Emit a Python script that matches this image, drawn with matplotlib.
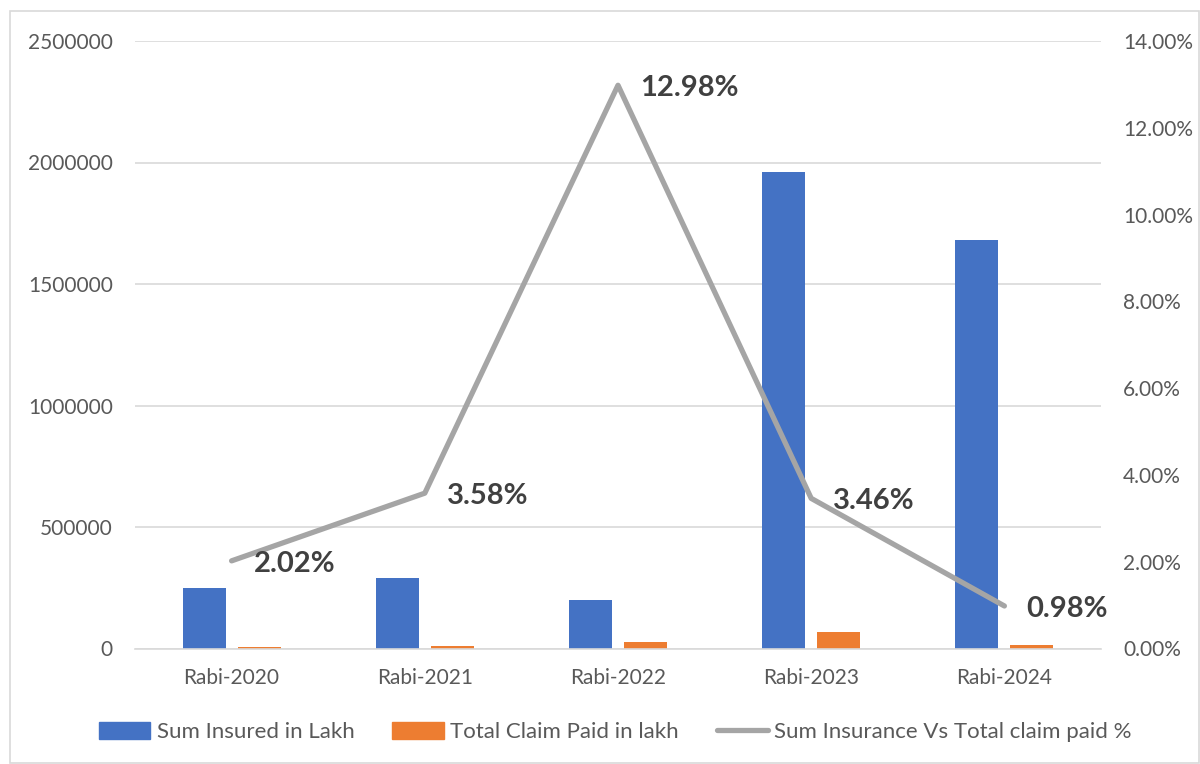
import matplotlib
matplotlib.use("Agg")
import matplotlib.pyplot as plt
import matplotlib.patches as mpatches
from matplotlib.lines import Line2D
import numpy as np

categories = ["Rabi-2020", "Rabi-2021", "Rabi-2022", "Rabi-2023", "Rabi-2024"]
sum_insured = [250000, 292000, 200000, 1960000, 1680000]
claim_paid = [5050, 10450, 25960, 67800, 16460]
claim_pct = [2.02, 3.58, 12.98, 3.46, 0.98]
pct_labels = ["2.02%", "3.58%", "12.98%", "3.46%", "0.98%"]
left_ticks = [0, 500000, 1000000, 1500000, 2000000, 2500000]
right_ticks = [0, 2, 4, 6, 8, 10, 12, 14]

plt.rcParams['font.family'] = ['Lato', 'DejaVu Sans']
TXT = '#595959'
BLUE = '#4472C4'
ORANGE = '#ED7D31'
GRAY = '#A5A5A5'
GRID = '#D9D9D9'

fig = plt.figure(figsize=(12, 7.64), dpi=100)
fig.patches.append(mpatches.Rectangle((10/1200, 1/764), 1189/1200, 752/764, transform=fig.transFigure,
                                      fill=False, edgecolor=GRID, linewidth=1.2))
ax = fig.add_axes([135/1200, 1-648.5/764, 966/1200, 607.5/764])
x = np.arange(len(categories))
bw = 0.223
off = 0.1425
ax.bar(x - off, sum_insured, width=bw, color=BLUE, zorder=2)
ax.bar(x + off, claim_paid, width=bw, color=ORANGE, zorder=2)
ax.set_xlim(-0.5, len(categories) - 0.5)
ax.set_ylim(0, 2500000)
ax.set_yticks(left_ticks)
ax.set_yticklabels([str(v) for v in left_ticks])
ax.set_xticks(x)
ax.set_xticklabels(categories)
ax.grid(axis='y', color=GRID, linewidth=1.2, zorder=0)
ax.set_axisbelow(True)
for s in ['top', 'right', 'left']:
    ax.spines[s].set_visible(False)
ax.spines['bottom'].set_color(GRID)
ax.spines['bottom'].set_linewidth(1.2)
ax.tick_params(axis='both', length=0, colors=TXT, labelsize=15)
ax.tick_params(axis='y', pad=16)
ax.tick_params(axis='x', pad=14)

ax2 = ax.twinx()
ax2.plot(x, claim_pct, color=GRAY, linewidth=3.8, solid_capstyle='round', zorder=3)
ax2.set_ylim(0, 14)
ax2.set_yticks(right_ticks)
ax2.set_yticklabels([f"{v:.2f}%" for v in right_ticks])
for s in ax2.spines.values():
    s.set_visible(False)
ax2.tick_params(axis='y', length=0, colors=TXT, labelsize=15, pad=16)
for xi, yi, lab in zip(x, claim_pct, pct_labels):
    ax2.annotate(lab, (xi, yi), xytext=(16, -2), textcoords='offset points',
                 ha='left', va='center', fontsize=21, fontweight='bold', color='#404040')

handles = [mpatches.Patch(color=BLUE, label="Sum Insured in Lakh"),
           mpatches.Patch(color=ORANGE, label="Total Claim Paid in lakh"),
           Line2D([0], [0], color=GRAY, linewidth=3.8, solid_capstyle='round',
                  label="Sum Insurance Vs Total claim paid %")]
fig.legend(handles=handles, loc='center', bbox_to_anchor=(615.5/1200, 1-732/764), ncol=3,
           frameon=False, fontsize=16, handlelength=2.3, handleheight=0.8,
           handletextpad=0.3, columnspacing=1.7, labelcolor=TXT)

fig.savefig("out.png", dpi=100)
